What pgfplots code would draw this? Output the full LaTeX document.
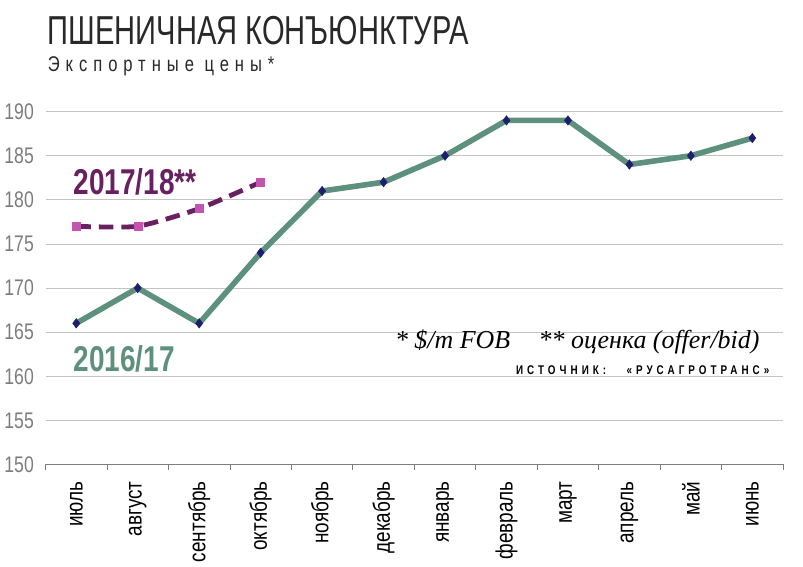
\documentclass[border=0pt]{standalone}
\usepackage{fontspec}
\setmainfont[FakeStretch=0.78]{Liberation Sans}
\newfontfamily\titlefont[FakeStretch=0.72]{Liberation Sans}
\newfontfamily\serifit[Scale=1.0]{Liberation Serif}
\usepackage{pgfplots}
\pgfplotsset{compat=1.18}
\definecolor{gline}{RGB}{94,145,125}
\definecolor{navy}{RGB}{30,30,110}
\definecolor{purp}{RGB}{104,32,96}
\definecolor{pinkm}{RGB}{196,84,176}
\definecolor{gridc}{RGB}{195,195,195}
\definecolor{tickc}{RGB}{125,125,125}
\begin{document}
\begin{tikzpicture}
\begin{axis}[
  scale only axis,
  width=555pt, height=265.5pt,
  xmin=-0.5, xmax=11.5, ymin=150, ymax=190,
  axis lines*=left,
  y axis line style={draw=none},
  x axis line style={draw=tickc, line width=0.6pt},
  xtick={0,...,11},
  xticklabels={июль,август,сентябрь,октябрь,ноябрь,декабрь,январь,февраль,март,апрель,май,июнь},
  x tick label style={rotate=90, anchor=east, font=\addfontfeature{FakeStretch=0.8}\fontsize{17.8}{17.8}\selectfont, black},
  xtick style={draw=none},
  minor xtick={-0.5,0.5,...,11.5},
  minor x tick style={draw=tickc, line width=0.6pt},
  minor tick length=4pt,
  tick align=outside,
  xticklabel shift=5pt,
  ytick={150,155,...,190},
  ytick style={draw=none},
  y tick label style={font=\fontsize{17}{17}\selectfont, text=tickc},
  yticklabel shift=1pt,
  /pgf/number format/assume math mode=true,
  ymajorgrids,
  major grid style={draw=gridc, line width=0.6pt},
  clip=false,
]
\addplot[gline, line width=4.2pt, mark=diamond*, mark size=3.6pt,
  mark options={fill=navy, draw=navy, line width=0.3pt}]
  coordinates {(0,166) (1,170) (2,166) (3,174) (4,181) (5,182) (6,185) (7,189) (8,189) (9,184) (10,185) (11,187)};
\addplot[purp, line width=3.6pt, dash pattern=on 11pt off 6pt, smooth, tension=0.35,
  mark=square*, mark size=3pt, mark options={solid, fill=pinkm, draw=pinkm, line width=0.3pt}]
  coordinates {(0,177) (1,177) (2,179) (3,182)};
\node[anchor=base west, text=purp, inner sep=0pt] at (axis cs:-0.05,180.6) {\fontsize{27}{27}\selectfont\bfseries 2017/18**};
\node[anchor=base west, text=gline, inner sep=0pt] at (axis cs:-0.05,160.5) {\fontsize{27}{27}\selectfont\bfseries 2016/17};
\node[anchor=base east, inner sep=0pt] at (axis cs:11.12,163.1) {\serifit\itshape\fontsize{19.5}{19.5}\selectfont * \$/m FOB\hspace{1.1em}** оценка (offer/bid)};
\node[anchor=base east, inner sep=0pt] at (axis cs:11.28,160.2) {\fontsize{9.5}{9.5}\selectfont\bfseries\addfontfeature{LetterSpace=32}ИСТОЧНИК: \ \ «РУСАГРОТРАНС»};
\end{axis}
\node[anchor=base west, inner sep=0pt, text={rgb,255:red,40;green,40;blue,40}] at ([xshift=1.5pt,yshift=50.25pt]current axis.north west) {\titlefont\fontsize{30.4}{30.4}\selectfont ПШЕНИЧНАЯ КОНЪЮНКТУРА};
\node[anchor=base west, inner sep=0pt, text={rgb,255:red,40;green,40;blue,40}] at ([xshift=1.5pt,yshift=30pt]current axis.north west) {\fontsize{16}{16}\selectfont\addfontfeature{LetterSpace=28}Экспортные цены*};
\path[use as bounding box] ([xshift=-32.25pt,yshift=-71.25pt]current axis.south west) rectangle ++(602.25pt,420.75pt);
\end{tikzpicture}
\end{document}
